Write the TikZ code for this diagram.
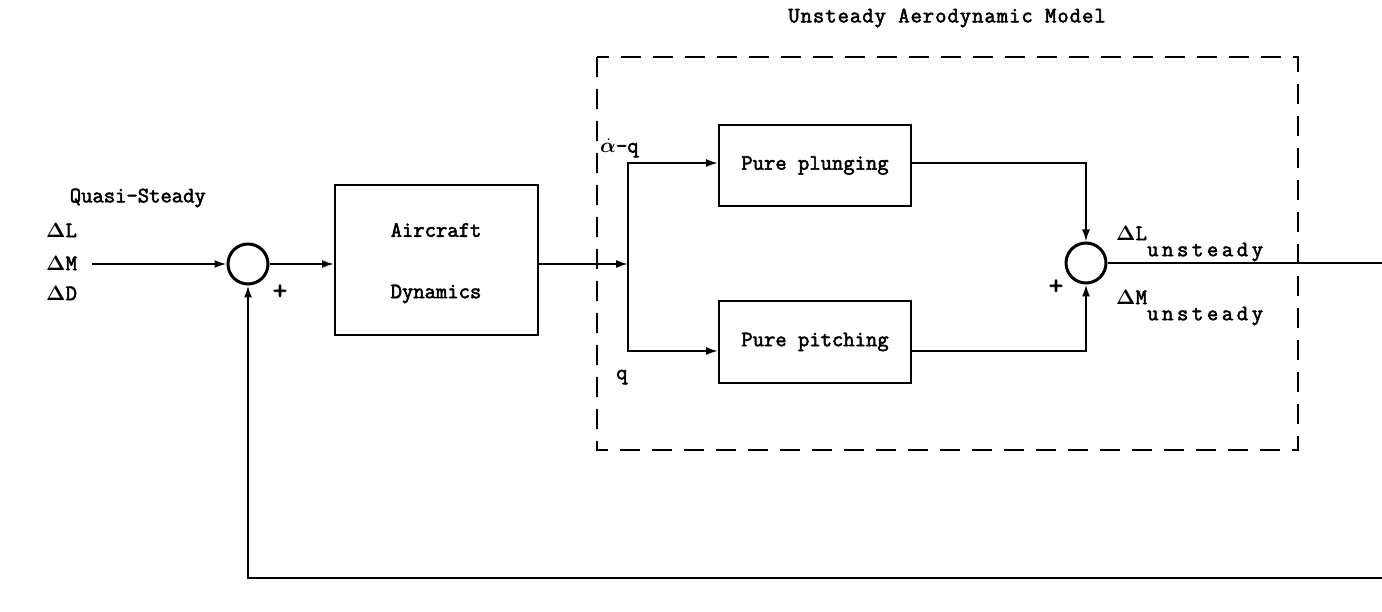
\documentclass[tikz,border=0pt]{standalone}
\usepackage{bm}
\usepackage[no-math]{fontspec}
\setmainfont{Latin Modern Mono}[AutoFakeBold=2.5]
\usetikzlibrary{arrows.meta}
\newcommand{\Dl}{$\bm{\Delta}$}
\newcommand{\uns}{u\hspace{3.6pt}n\hspace{3.6pt}s\hspace{3.6pt}t\hspace{3.6pt}e\hspace{3.6pt}a\hspace{3.6pt}d\hspace{3.6pt}y}
\begin{document}
\begin{tikzpicture}[x=1pt,y=-1pt,
  every node/.style={font=\fontsize{22}{26}\selectfont\bfseries},
  blk/.style={draw,line width=2pt,inner sep=0pt},
  sumj/.style={draw,circle,line width=3pt,minimum size=40pt,inner sep=0pt},
  ln/.style={line width=2pt},
  arr/.style={line width=2pt,-{Latex[length=12pt,width=8pt]}},
  lbl/.style={inner sep=0pt},
  sgn/.style={inner sep=0pt,font=\fontsize{28}{30}\selectfont\bfseries}]
\useasboundingbox (0,0) rectangle (1382,612);
% frame
\draw[line width=2pt,dash pattern=on 20pt off 12pt] (597,57) rectangle (1298,450);
\node[lbl] (title) at (947,18) {\addfontfeature{LetterSpace=4.5}Unsteady Aerodynamic Model};
% blocks
\node[blk,minimum width=203pt,minimum height=150pt] (ac) at (436.5,260) {};
\node[lbl] (act1) at (436,230) {Aircraft};
\node[lbl] (act2) at (436,294) {Dynamics};
\node[blk,minimum width=192pt,minimum height=81pt] (pl) at (815,165.5) {Pure plunging};
\node[blk,minimum width=192pt,minimum height=82pt] (pi) at (815,342) {Pure pitching};
% junctions
\node[sumj] (j1) at (248,264) {};
\node[sumj] (j2) at (1086,263) {};
\coordinate (sp) at (628,264);
\coordinate (in) at (92,264);
\coordinate (out) at (1382,263);
\coordinate (fb) at (1382,578);
% connectors
\draw[arr] (in) -- (j1.west);
\draw[arr] (j1.east) -- (ac.west|-j1.east);
\draw[arr] (ac.east|-sp) -- (sp);
\draw[arr] (sp) |- ([yshift=2.5pt]pl.west);
\draw[arr] (sp) |- ([yshift=-9pt]pi.west);
\draw[arr] ([yshift=2.5pt]pl.east) -| (j2.north);
\draw[arr] ([yshift=-9pt]pi.east) -| (j2.south);
\draw[ln] (j2.east) -- (out);
\draw[arr] (fb) -| (j1.south);
% labels
\node[lbl,anchor=east] (qs) at (206,198) {Quasi-Steady};
\node[lbl,anchor=west] (dl) at (46,230) {\Dl L};
\node[lbl,anchor=west] (dm) at (46,263) {\Dl M};
\node[lbl,anchor=west] (dd) at (46,293) {\Dl D};
\node[sgn] (p1) at (280,292) {+};
\node[sgn] (p2) at (1056,287) {+};
\node[lbl,anchor=west] (aq) at (600,148) {$\dot{\bm{\alpha}}$-q};
\node[lbl,anchor=west] (q) at (616,377) {q};
\node[lbl,anchor=west] (lu) at (1116,233) {\Dl L};
\node[lbl,anchor=west] (lus) at (1147,252) {\uns};
\node[lbl,anchor=west] (mu) at (1116,297) {\Dl M};
\node[lbl,anchor=west] (mus) at (1147,316) {\uns};
\end{tikzpicture}
\end{document}
